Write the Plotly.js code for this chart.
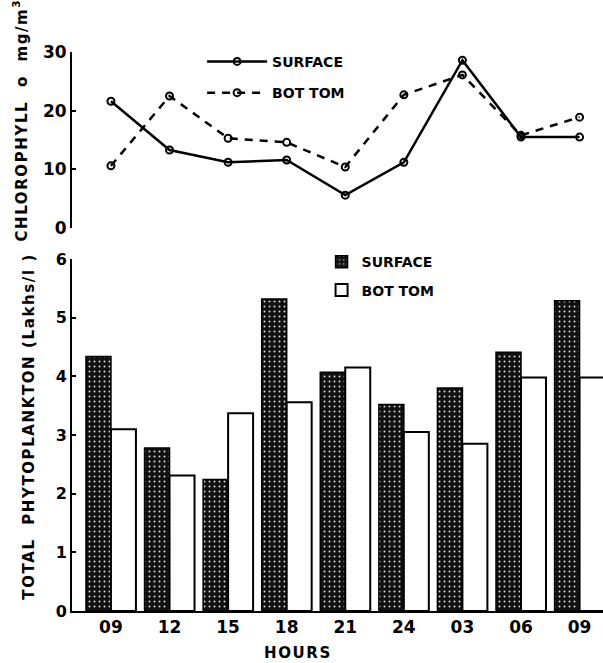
<!DOCTYPE html>
<html>
<head>
<meta charset="utf-8">
<script src="https://cdn.plot.ly/plotly-3.0.1.min.js"></script>
<style>
html,body{margin:0;padding:0;background:#fff;}
#chart{width:603px;height:663px;}
g.annotation text{letter-spacing:1.6px;}
</style>
</head>
<body>
<div id="chart"></div>
<script>
// Sampling hours (tick labels)
const hours = ["09","12","15","18","21","24","03","06","09"];
// Chlorophyll (mg/m3)
const chlSurface = [21.6, 13.3, 11.2, 11.6, 5.6, 11.2, 28.6, 15.5, 15.5];
const chlBottom  = [10.6, 22.5, 15.3, 14.6, 10.4, 22.7, 26.1, 15.8, 18.9];
// Total phytoplankton (Lakhs/l)
const phySurface = [4.34, 2.78, 2.24, 5.32, 4.07, 3.52, 3.80, 4.41, 5.29];
const phyBottom  = [3.10, 2.31, 3.37, 3.56, 4.15, 3.05, 2.85, 3.98, 3.98];

const xpos = hours.map((h, i) => i);
const FONT = "DejaVu Sans";

const traces = [
  {
    type: "scatter", mode: "lines+markers", name: "<b>SURFACE</b>",
    x: xpos, y: chlSurface, xaxis: "x", yaxis: "y2",
    line: {color: "#000", width: 2.5},
    marker: {symbol: "circle-open", size: 7, color: "#000", line: {width: 2, color: "#000"}},
    legend: "legend", legendgroup: "a"
  },
  {
    type: "scatter", mode: "lines+markers", name: "<b>BOT TOM</b>",
    x: xpos, y: chlBottom, xaxis: "x", yaxis: "y2",
    line: {color: "#000", width: 2.5, dash: "8px,7px"},
    marker: {symbol: "circle-open", size: 7, color: "#000", line: {width: 2, color: "#000"}},
    legend: "legend", legendgroup: "b"
  },
  {
    type: "bar", name: "<b>SURFACE</b>",
    x: xpos, y: phySurface, xaxis: "x", yaxis: "y",
    marker: {
      color: "#111",
      line: {color: "#000", width: 1.5},
      pattern: {shape: ".", fgcolor: "#d8d8d8", bgcolor: "#111", size: 5, solidity: 0.12}
    },
    legend: "legend2", legendgroup: "c"
  },
  {
    type: "bar", name: "<b>BOT TOM</b>",
    x: xpos, y: phyBottom, xaxis: "x", yaxis: "y",
    marker: {color: "#fff", line: {color: "#000", width: 2}},
    legend: "legend2", legendgroup: "d"
  }
];

const layout = {
  width: 603, height: 663,
  margin: {l: 72, r: 0, t: 0, b: 52},
  paper_bgcolor: "#fff", plot_bgcolor: "#fff",
  font: {family: FONT, color: "#000"},
  barmode: "group", bargap: 0.147, bargroupgap: 0,
  xaxis: {
    range: [-0.665, 8.4], anchor: "y",
    tickmode: "array", tickvals: xpos, ticktext: hours.map(h => "<b>" + h + "</b>"),
    tickfont: {size: 17, family: FONT, color: "#000"},
    showline: true, linecolor: "#000", linewidth: 2,
    ticks: "", showgrid: false, zeroline: false
  },
  yaxis: {
    domain: [0, 0.5761], range: [0, 6], anchor: "x",
    tickvals: [0, 1, 2, 3, 4, 5, 6], ticktext: ["<b>0</b>","<b>1</b>","<b>2</b>","<b>3</b>","<b>4</b>","<b>5</b>","<b>6</b>"],
    tickfont: {size: 16, family: FONT, color: "#000"},
    showline: true, linecolor: "#000", linewidth: 2,
    ticks: "inside", ticklen: 4, tickwidth: 2, tickcolor: "#000",
    showgrid: false, zeroline: false
  },
  yaxis2: {
    domain: [0.6268, 0.9149], range: [0, 30], anchor: "x",
    tickvals: [0, 10, 20, 30], ticktext: ["<b>0</b>","<b>10</b>","<b>20</b>","<b>30</b>"],
    tickfont: {size: 17, family: FONT, color: "#000"},
    showline: true, linecolor: "#000", linewidth: 2,
    ticks: "inside", ticklen: 4, tickwidth: 2, tickcolor: "#000",
    showgrid: false, zeroline: false
  },
  legend: {
    x: 0.245, y: 0.925, xanchor: "left", yanchor: "top",
    bgcolor: "rgba(0,0,0,0)", itemwidth: 60, tracegroupgap: 10,
    font: {size: 14, family: FONT, color: "#000"}
  },
  legend2: {
    x: 0.47, y: 0.597, xanchor: "left", yanchor: "top",
    bgcolor: "rgba(0,0,0,0)", itemwidth: 30, tracegroupgap: 7,
    font: {size: 14, family: FONT, color: "#000"}
  },
  annotations: [
    {text: "<b>CHLOROPHYLL  o  mg/m<sup>3</sup></b>", xref: "paper", yref: "paper",
     x: -0.098, y: 0.804, xanchor: "center", yanchor: "middle", textangle: -90, showarrow: false,
     font: {size: 15, family: FONT, color: "#000"}},
    {text: "<b>TOTAL  PHYTOPLANKTON (Lakhs/l )</b>", xref: "paper", yref: "paper",
     x: -0.081, y: 0.303, xanchor: "center", yanchor: "middle", textangle: -90, showarrow: false,
     font: {size: 15, family: FONT, color: "#000"}},
    {text: "<b>HOURS</b>", xref: "paper", yref: "paper", x: 0.426, y: -0.069,
     xanchor: "center", yanchor: "middle", showarrow: false,
     font: {size: 15, family: FONT, color: "#000"}}
  ]
};

Plotly.newPlot("chart", traces, layout, {displayModeBar: false, staticPlot: true});
</script>
</body>
</html>
